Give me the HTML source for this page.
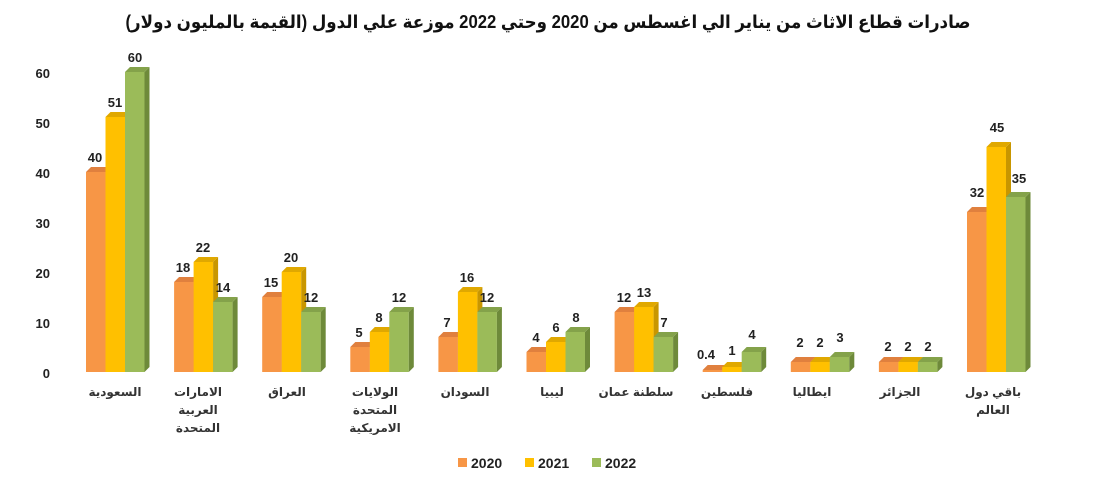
<!DOCTYPE html>
<html><head><meta charset="utf-8"><style>
html,body{margin:0;padding:0;background:#fff;}
svg{display:block;font-family:"Liberation Sans","DejaVu Sans",sans-serif;}
.v{font-size:13px;font-weight:bold;fill:#222;text-anchor:middle;}
.t{font-size:13px;font-weight:bold;fill:#222;text-anchor:end;}
.c{font-size:12px;font-weight:bold;fill:#333;text-anchor:middle;font-family:"Liberation Sans","DejaVu Sans",sans-serif;}
</style></head><body>
<svg id="s" width="1110" height="491" viewBox="0 0 1110 491">
<text x="548" y="28" text-anchor="middle" direction="rtl" textLength="845" lengthAdjust="spacingAndGlyphs" style="font-size:18px;font-weight:bold;fill:#111">صادرات قطاع الاثاث من يناير الي اغسطس من 2020 وحتي 2022 موزعة علي الدول (القيمة بالمليون دولار)</text>
<text class="t" x="50" y="78">60</text>
<text class="t" x="50" y="128">50</text>
<text class="t" x="50" y="178">40</text>
<text class="t" x="50" y="228">30</text>
<text class="t" x="50" y="278">20</text>
<text class="t" x="50" y="328">10</text>
<text class="t" x="50" y="378">0</text>
<g id="bars"></g>
<g>
<text class="v" x="95" y="162">40</text><text class="v" x="115" y="107">51</text><text class="v" x="135" y="62">60</text>
<text class="v" x="183" y="272">18</text><text class="v" x="203" y="252">22</text><text class="v" x="223" y="292">14</text>
<text class="v" x="271" y="287">15</text><text class="v" x="291" y="262">20</text><text class="v" x="311" y="302">12</text>
<text class="v" x="359" y="337">5</text><text class="v" x="379" y="322">8</text><text class="v" x="399" y="302">12</text>
<text class="v" x="447" y="327">7</text><text class="v" x="467" y="282">16</text><text class="v" x="487" y="302">12</text>
<text class="v" x="536" y="342">4</text><text class="v" x="556" y="332">6</text><text class="v" x="576" y="322">8</text>
<text class="v" x="624" y="302">12</text><text class="v" x="644" y="297">13</text><text class="v" x="664" y="327">7</text>
<text class="v" x="706" y="359">0.4</text><text class="v" x="732" y="355">1</text><text class="v" x="752" y="339">4</text>
<text class="v" x="800" y="347">2</text><text class="v" x="820" y="347">2</text><text class="v" x="840" y="342">3</text>
<text class="v" x="888" y="351">2</text><text class="v" x="908" y="351">2</text><text class="v" x="928" y="351">2</text>
<text class="v" x="977" y="197">32</text><text class="v" x="997" y="132">45</text><text class="v" x="1019" y="183">35</text>
</g>
<g class="c" direction="rtl">
<text class="c" x="115" y="396">السعودية</text>
<text class="c" x="198" y="396">الامارات</text><text class="c" x="198" y="414">العربية</text><text class="c" x="198" y="432">المتحدة</text>
<text class="c" x="287" y="396">العراق</text>
<text class="c" x="375" y="396">الولايات</text><text class="c" x="375" y="414">المتحدة</text><text class="c" x="375" y="432">الامريكية</text>
<text class="c" x="465" y="396">السودان</text>
<text class="c" x="552" y="396">ليبيا</text>
<text class="c" x="636" y="396">سلطنة عمان</text>
<text class="c" x="727" y="396">فلسطين</text>
<text class="c" x="812" y="396">ايطاليا</text>
<text class="c" x="900" y="396">الجزائر</text>
<text class="c" x="993" y="396">باقي دول</text><text class="c" x="993" y="414">العالم</text>
</g>
<rect x="458" y="458" width="9" height="9" fill="#F79646"/><text x="471" y="468" style="font-size:14px;font-weight:bold;fill:#222">2020</text>
<rect x="525" y="458" width="9" height="9" fill="#FFC000"/><text x="538" y="468" style="font-size:14px;font-weight:bold;fill:#222">2021</text>
<rect x="592" y="458" width="9" height="9" fill="#9BBB59"/><text x="605" y="468" style="font-size:14px;font-weight:bold;fill:#222">2022</text>
</svg>
<script>
var data=[[40,51,60],[18,22,14],[15,20,12],[5,8,12],[7,16,12],[4,6,8],[12,13,7],[0.4,1,4],[2,2,3],[2,2,2],[32,45,35]];
var cols=[["#F79646","#D2763A","#E0803E"],["#FFC000","#C89600","#E0A800"],["#9BBB59","#6E8A3A","#84A24A"]];
var g=document.getElementById('bars'),h='';
var base=372,w=19.5,d=5;
data.forEach(function(grp,i){var x0=86+i*88.1;
grp.forEach(function(v,j){var x=x0+j*w,top=base-v*5;var c=cols[j];
h+='<rect x="'+x+'" y="'+top+'" width="'+w+'" height="'+(base-top)+'" fill="'+c[0]+'"/>';
h+='<polygon points="'+(x+w)+','+top+' '+(x+w+d)+','+(top-d)+' '+(x+w+d)+','+(base-d)+' '+(x+w)+','+base+'" fill="'+c[1]+'"/>';
h+='<polygon points="'+x+','+top+' '+(x+d)+','+(top-d)+' '+(x+w+d)+','+(top-d)+' '+(x+w)+','+top+'" fill="'+c[2]+'"/>';
});});
g.innerHTML=h;
</script>
</body></html>
